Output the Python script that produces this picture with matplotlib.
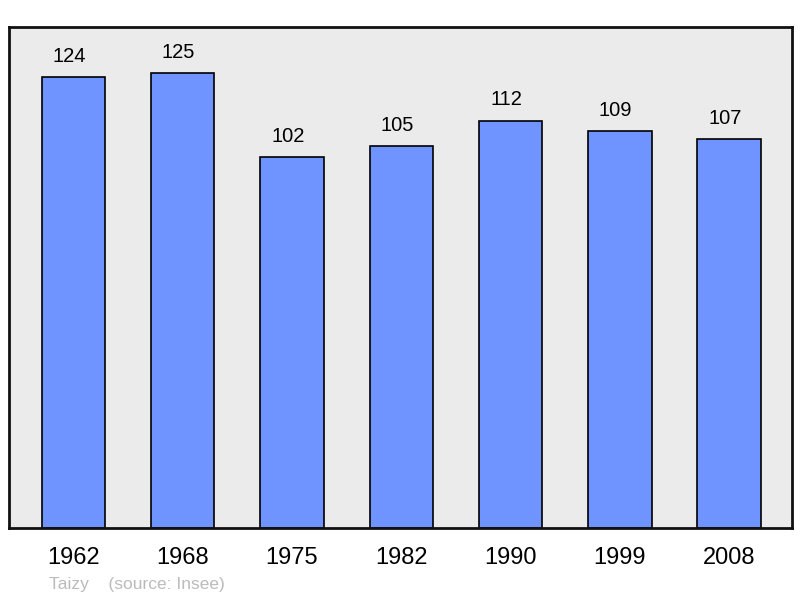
import matplotlib
matplotlib.use("Agg")
import matplotlib.pyplot as plt

years = ["1962", "1968", "1975", "1982", "1990", "1999", "2008"]
population = [124, 125, 102, 105, 112, 109, 107]

plt.rcParams['font.family'] = ['Liberation Sans', 'DejaVu Sans']

fig = plt.figure(figsize=(8, 5.98), dpi=100)
ax = fig.add_axes([9/800, 1 - 528/598, 783/800, 501/598])
ax.set_facecolor('#ebebeb')
x = list(range(len(years)))
ax.bar(x, population, width=0.58, color='#7094ff', edgecolor='black', linewidth=1.2, zorder=2)
for xi, v in zip(x, population):
    ax.annotate(str(v), (xi, v), xytext=(-3, 8), textcoords='offset points',
                ha='center', va='bottom', fontsize=14.5, color='black')
ax.set_xlim(-0.59, 6.575)
ax.set_ylim(0, 137.7)
ax.set_yticks([])
ax.set_xticks(x)
ax.set_xticklabels(years, fontsize=17)
ax.tick_params(axis='x', length=0, pad=14)
for s in ax.spines.values():
    s.set_linewidth(2)
    s.set_color('#111111')
fig.text(49/800, 1 - 584/598, "Taizy    (source: Insee)", fontsize=12.5, color='#bbbbbb',
         ha='left', va='center')
fig.savefig('out.png', dpi=100)
